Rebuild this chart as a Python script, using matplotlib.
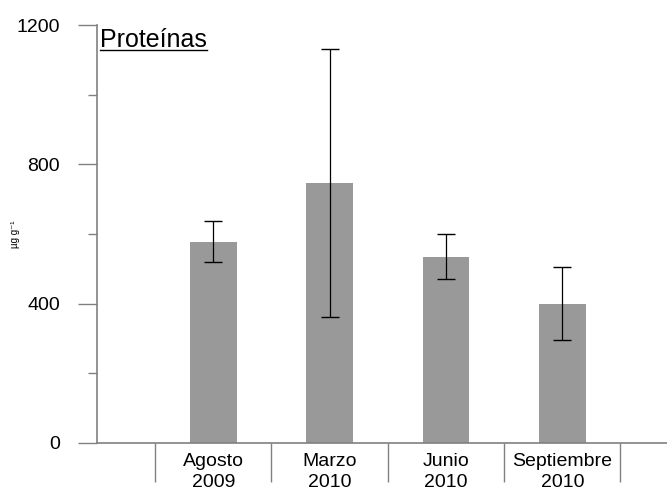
import matplotlib

matplotlib.use("Agg")
import matplotlib.pyplot as plt
from matplotlib.lines import Line2D
from matplotlib.ticker import FixedLocator, NullFormatter

plt.rcParams["font.family"] = ["Liberation Sans", "DejaVu Sans"]

categories = ["Agosto\n2009", "Marzo\n2010", "Junio\n2010", "Septiembre\n2010"]
means = [578, 747, 535, 400]
errors = [58, 384, 64, 104]
y_major = [0, 400, 800, 1200]
y_minor = [200, 600, 1000]

AXIS_GRAY = "#808080"
BAR_GRAY = "#999999"

fig = plt.figure(figsize=(6.67, 4.91), dpi=100)
ax = fig.add_axes([0.1454, 0.0978, 0.8546, 0.8512])

pos = [i + 1 for i in range(len(categories))]
ax.bar(pos, means, width=0.4, color=BAR_GRAY, zorder=1)
ax.errorbar(pos, means, yerr=errors, fmt="none", ecolor="black",
            elinewidth=0.9, capsize=6.8, capthick=1.0, zorder=2)

ax.set_xlim(0, 4.9)
ax.set_ylim(0, 1200)

for side in ("top", "right"):
    ax.spines[side].set_visible(False)
for side in ("left", "bottom"):
    ax.spines[side].set_color(AXIS_GRAY)
    ax.spines[side].set_linewidth(1.2)

# y axis: labelled majors, short unlabelled minors
ax.yaxis.set_major_locator(FixedLocator(y_major))
ax.yaxis.set_minor_locator(FixedLocator(y_minor))
ax.tick_params(axis="y", which="major", length=13.5, width=1, color=AXIS_GRAY,
               pad=13, labelsize=14)
ax.tick_params(axis="y", which="minor", length=6.5, width=1, color=AXIS_GRAY)

# x axis: long separators between categories, labels on the centres
ax.xaxis.set_major_locator(FixedLocator([p - 0.5 for p in pos] + [pos[-1] + 0.5]))
ax.xaxis.set_major_formatter(NullFormatter())
ax.xaxis.set_minor_locator(FixedLocator(pos))
ax.set_xticklabels(categories, minor=True)
ax.tick_params(axis="x", which="major", length=28, width=1, color=AXIS_GRAY)
ax.tick_params(axis="x", which="minor", length=0, pad=7, labelsize=14)
for lbl in ax.get_xticklabels(minor=True):
    lbl.set_linespacing(1.3)

ax.set_ylabel("µg g⁻¹", fontsize=7)
ax.yaxis.set_label_coords(-0.135, 0.5)

title = ax.text(0.005, 0.992, "Proteínas", transform=ax.transAxes,
                fontsize=18, ha="left", va="top")
fig.canvas.draw()
bb = title.get_window_extent().transformed(fig.transFigure.inverted())
underline_y = bb.y0 + 0.004
fig.add_artist(Line2D([bb.x0, bb.x1], [underline_y, underline_y],
                      transform=fig.transFigure, color="black", linewidth=1))

fig.savefig("out.png", dpi=100)
